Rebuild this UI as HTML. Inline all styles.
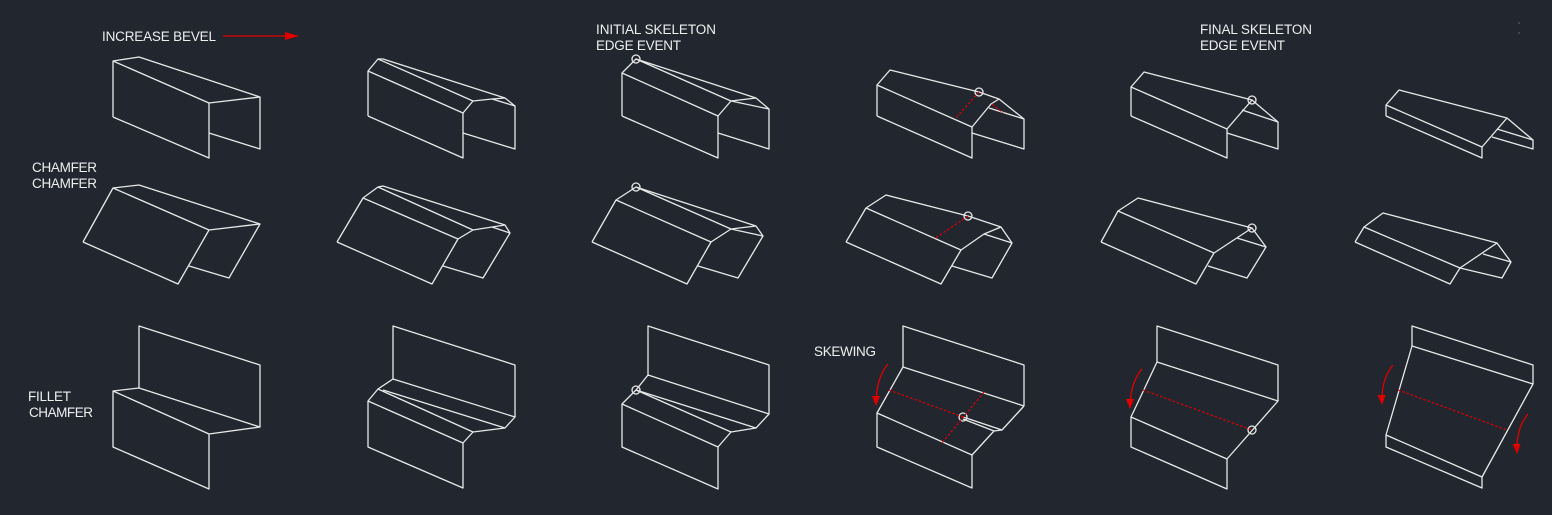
<!DOCTYPE html>
<html><head><meta charset="utf-8"><style>
html,body{margin:0;padding:0;background:#22272f;}
svg{display:block}
text{font-family:"Liberation Sans",Arial,sans-serif;font-size:13.5px;fill:#eeeeee}
</style></head><body>
<svg width="1552" height="515" viewBox="0 0 1552 515" xmlns="http://www.w3.org/2000/svg">
<rect width="1552" height="515" fill="#22272f"/>
<defs>
<marker id="ah" markerWidth="10" markerHeight="8" refX="9" refY="4" orient="auto" markerUnits="userSpaceOnUse">
<path d="M0,0 L10,4 L0,8 Z" fill="#e00000"/></marker>
<marker id="ah2" markerWidth="14" markerHeight="8" refX="13" refY="4" orient="auto" markerUnits="userSpaceOnUse">
<path d="M0,0 L14,4 L0,8 Z" fill="#e00000"/></marker>
</defs>
<text x="102" y="41" textLength="114">INCREASE BEVEL</text>
<line x1="223" y1="36" x2="298" y2="36" stroke="#e00000" stroke-width="1.3" marker-end="url(#ah2)"/>
<text x="32" y="172" textLength="65">CHAMFER</text>
<text x="32" y="188" textLength="65">CHAMFER</text>
<text x="28" y="401" textLength="43">FILLET</text>
<text x="29" y="417" textLength="64">CHAMFER</text>
<text x="596" y="34" textLength="120">INITIAL SKELETON</text>
<text x="596" y="50" textLength="85">EDGE EVENT</text>
<text x="1200" y="34" textLength="112">FINAL SKELETON</text>
<text x="1200" y="50" textLength="85">EDGE EVENT</text>
<text x="814" y="356" textLength="62">SKEWING</text>

<g stroke="#e8e8e8" stroke-width="1.3" fill="none" stroke-linejoin="round">
<!-- Fig1 row1 -->
<polyline points="113,117 113,61 139,57 260,97 260,149 209,133"/>
<polyline points="113,61 209,103 260,97"/>
<polyline points="113,117 209,158 209,103"/>
<!-- Fig1 row2 -->
<polyline points="83,242 113,188 139,185 260,224 229,278 189,266"/>
<polyline points="113,188 209,230 260,224"/>
<polyline points="83,242 178,284 209,230"/>
<!-- Fig1 row3 -->
<polyline points="139,388 139,326 260,365 260,427"/>
<polyline points="113,391 139,388 260,427 209,434 113,391 113,447 209,489 209,434"/>

<!-- Fig2 row1 -->
<polyline points="368,116 368,71 378,59 383,59 505,98 515,106 515,149 463,133"/>
<polyline points="368,71 463,113 473,101 492,99 505,98"/>
<polyline points="378,59 473,101"/>
<polyline points="492,99 515,106"/>
<polyline points="368,116 463,158 463,113"/>
<!-- Fig2 row2 -->
<polyline points="337,242 363,198 378,187 383,186 505,225 510,233 483,278 443,266"/>
<polyline points="363,198 458,239 473,230 492,227 505,225"/>
<polyline points="378,187 473,230"/>
<polyline points="492,227 510,233"/>
<polyline points="337,242 432,284 458,239"/>
<!-- Fig2 row3 -->
<polyline points="393,379 393,326 515,365 515,417"/>
<polyline points="393,379 378,389 368,401 463,443 473,432 505,428 515,417 393,379"/>
<polyline points="378,389 473,432"/>
<polyline points="383,390 505,428"/>
<polyline points="368,401 368,447 463,488 463,443"/>

<!-- Fig3 row1 -->
<circle cx="636" cy="59" r="4"/>
<polyline points="622,116 622,73 636,59 756,98 769,109 769,149 718,133"/>
<polyline points="622,73 718,116 731,101 756,98"/>
<polyline points="636,59 731,101"/>
<polyline points="731,101 769,109"/>
<polyline points="622,116 718,158 718,116"/>
<!-- Fig3 row2 -->
<circle cx="636" cy="187" r="4"/>
<polyline points="592,242 616,200 636,187 756,226 763,236 738,278 698,266"/>
<polyline points="616,200 711,242 731,229 756,226"/>
<polyline points="636,187 731,229"/>
<polyline points="731,229 763,236"/>
<polyline points="592,242 687,284 711,242"/>
<!-- Fig3 row3 -->
<circle cx="636" cy="390" r="4"/>
<polyline points="648,375 648,326 769,365 769,414"/>
<polyline points="648,375 636,390 622,404 718,447 731,432 756,428 769,414 648,375"/>
<polyline points="636,390 731,432"/>
<polyline points="636,390 756,428"/>
<polyline points="622,404 622,447 718,489 718,447"/>

<!-- Fig4 row1 -->
<circle cx="979" cy="92" r="4"/>
<polyline points="877,116 877,85 890,70 979,92 999,99 1024,119 1024,149 972,133"/>
<polyline points="877,85 972,127 991,104 999,99"/>
<polyline points="989,108 1024,119"/>
<polyline points="877,116 972,158 972,127"/>
<!-- Fig4 row2 -->
<circle cx="968" cy="216" r="4"/>
<polyline points="846,242 866,208 886,195 968,216 1001,227 1012,243 992,278 952,266"/>
<polyline points="866,208 961,250 984,234 1001,227"/>
<polyline points="984,234 1012,243"/>
<polyline points="846,242 941,284 961,250"/>
<!-- Fig4 row3 -->
<circle cx="963" cy="417" r="4"/>
<polyline points="903,367 903,326 1024,365 1024,406"/>
<polyline points="903,367 877,413 972,455 994,431 1002,430 1024,406"/>
<line x1="903" y1="367" x2="1024" y2="406"/>
<line x1="963" y1="417" x2="1002" y2="430"/>
<line x1="963" y1="419" x2="994" y2="431"/>
<polyline points="877,413 877,447 972,488 972,455"/>

<!-- Fig5 row1 -->
<circle cx="1252" cy="100" r="4"/>
<polyline points="1131,116 1131,87 1144,72 1252,100 1278,122 1278,149 1227,133"/>
<polyline points="1131,87 1227,129 1252,100"/>
<polyline points="1242,110 1278,122"/>
<polyline points="1131,116 1227,158 1227,129"/>
<!-- Fig5 row2 -->
<circle cx="1252" cy="228" r="4"/>
<polyline points="1101,242 1118,211 1138,198 1252,228 1266,247 1247,278 1208,266"/>
<polyline points="1118,211 1214,253 1252,228"/>
<polyline points="1237,238 1266,247"/>
<polyline points="1101,242 1196,284 1214,253"/>
<!-- Fig5 row3 -->
<circle cx="1252" cy="430" r="4"/>
<polyline points="1157,362 1157,326 1278,365 1278,401"/>
<polyline points="1157,362 1131,417 1227,459 1278,401 1157,362"/>
<polyline points="1131,417 1131,447 1227,489 1227,459"/>

<!-- Fig6 row1 -->
<polyline points="1386,116 1386,105 1399,90 1507,118 1533,140 1533,149 1492,137"/>
<polyline points="1386,105 1482,147 1507,118"/>
<polyline points="1497,129 1533,140"/>
<polyline points="1386,116 1482,158 1482,147"/>
<!-- Fig6 row2 -->
<polyline points="1355,242 1364,227 1383,213 1497,243 1511,262 1502,278 1460,268"/>
<polyline points="1364,227 1460,268 1497,243"/>
<polyline points="1483,254 1511,262"/>
<polyline points="1355,242 1450,284 1460,268"/>
<!-- Fig6 row3 -->
<polyline points="1412,346 1412,326 1533,365 1533,384"/>
<polyline points="1412,346 1386,435 1482,477 1533,384 1412,346"/>
<polyline points="1386,435 1386,447 1482,488 1482,477"/>
</g>

<g stroke="#e00000" stroke-width="1.2" fill="none" stroke-dasharray="2.5,2">
<line x1="979" y1="92" x2="955" y2="119"/>
<line x1="992" y1="104" x2="1003" y2="113"/>
<line x1="968" y1="216" x2="934" y2="239"/>
<line x1="889" y1="390" x2="963" y2="417"/>
<line x1="984" y1="392" x2="942" y2="443"/>
<line x1="1143" y1="390" x2="1252" y2="430"/>
<line x1="1398" y1="390" x2="1507" y2="430"/>
</g>
<g stroke="#e00000" stroke-width="1.3" fill="none">
<path d="M888,364 Q876,378 876,405" marker-end="url(#ah)"/>
<path d="M1142,369 Q1130,383 1130,408" marker-end="url(#ah)"/>
<path d="M1393,365 Q1381,379 1382,404" marker-end="url(#ah)"/>
<path d="M1528,414 Q1516,428 1517,453" marker-end="url(#ah)"/>
</g>
<line x1="1519" y1="22" x2="1519" y2="24" stroke="#667" stroke-width="1"/>
<line x1="1519" y1="32" x2="1519" y2="34" stroke="#667" stroke-width="1"/>
</svg>
</body></html>
